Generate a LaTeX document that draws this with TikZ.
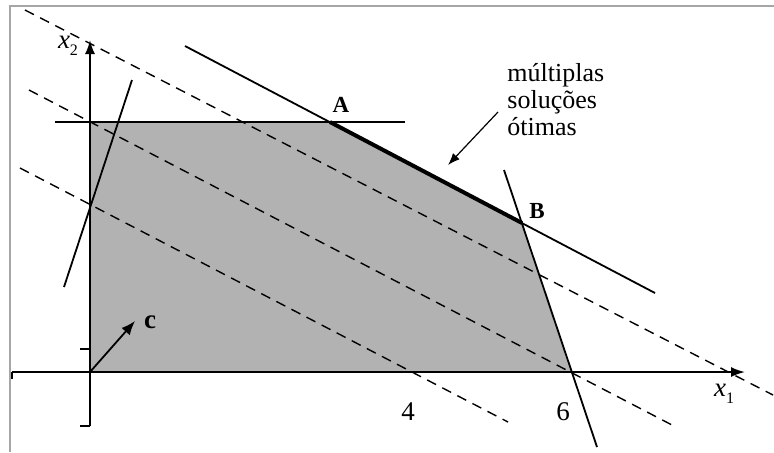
\documentclass[tikz,border=0pt]{standalone}
\usepackage{fontspec}
\setmainfont{Liberation Serif}
\usetikzlibrary{arrows.meta,positioning,calc}

\newcommand{\axlabel}[1]{\textit{x}\raisebox{-3.5pt}{\fontsize{8}{8}\selectfont #1}}

\begin{document}
\begin{tikzpicture}[
        x=0.5pt, y=-0.5pt,
        axis/.style={line width=0.9pt, -{Latex[length=7pt,width=5pt]}},
        constraint/.style={line width=0.9pt},
        level/.style={line width=0.7pt, dash pattern=on 5pt off 3.5pt},
        lbl/.style={inner sep=0pt, font=\fontsize{13.5}{14}\selectfont},
        vertex/.style={inner sep=0pt, font=\fontsize{11.5}{12}\selectfont\bfseries}
    ]
        \useasboundingbox (0,0) rectangle (774,452);

        % Frame of the scan
        \draw[gray!70, line width=0.6pt] (10,452) -- (10,6) -- (774,6);

        % Points
        \coordinate (O) at (90,372);
        \coordinate (P) at (90,122);
        \coordinate (A) at (330,122);
        \coordinate (B) at (522,223);
        \coordinate (Q) at (572,372);

        % Feasible region
        \fill[black!30] (O) -- (P) -- (A) -- (B) -- (Q) -- cycle;

        % Level lines of the objective
        \coordinate (d1s) at (25,10);  \coordinate (d1e) at (773,395);
        \coordinate (d2s) at (29,90);  \coordinate (d2e) at (672,425);
        \coordinate (d3s) at (20,168); \coordinate (d3e) at (508,422);
        \draw[level] (d1s) -- (d1e);
        \draw[level] (d2s) -- (d2e);
        \draw[level] (d3s) -- (d3e);

        % Axes
        \coordinate (x1s) at (12,372); \coordinate (x1e) at (745,372);
        \coordinate (x2s) at (90,426); \coordinate (x2e) at (90,40);
        \draw[axis] (x1s) -- (x1e);
        \draw[axis] (x2s) -- (x2e);
        \draw[constraint] (x1s) -- ++(0,7);
        \draw[constraint] (x2s) -- ++(-10,0);
        \draw[constraint] (90,349) -- ++(-10,0);
        \node[lbl] (lx1) at (724,394) {\axlabel{1}};
        \node[lbl] (lx2) at (68,46) {\axlabel{2}};
        \node[lbl] (four) at (408,412) {4};
        \node[lbl] (six) at (563,412) {6};

        % Constraints
        \coordinate (h1) at (55,122);  \coordinate (h2) at (405,122);
        \coordinate (r1) at (185,46);  \coordinate (r2) at (655,293);
        \coordinate (s1) at (504,170); \coordinate (s2) at (597,447);
        \coordinate (t1) at (132,80);  \coordinate (t2) at (64,287);
        \draw[constraint] (h1) -- (h2);
        \draw[constraint] (r1) -- (r2);
        \draw[constraint] (s1) -- (s2);
        \draw[constraint] (t1) -- (t2);
        \draw[line width=2pt] (A) -- (B);

        % Vertices
        \node[vertex] (lA) at (341,105) {A};
        \node[vertex] (lB) at (537,211) {B};

        % Gradient vector
        \coordinate (ctip) at (135,321);
        \draw[line width=0.9pt, -{Latex[length=7pt,width=5.5pt]}] (O) -- (ctip);
        \node[lbl, font=\fontsize{13.5}{14}\selectfont\bfseries] (lc) at (150,322) {c};

        % Annotation
        \node[lbl, align=left, anchor=north west, font=\fontsize{13}{13.6}\selectfont] (note) at (507,63) {múltiplas\\soluções\\ótimas};
        \coordinate (ntip) at (448,165);
        \draw[line width=0.6pt, -{Latex[length=6pt,width=4.5pt]}] (498,112) -- (ntip);

    \end{tikzpicture}
\end{document}
